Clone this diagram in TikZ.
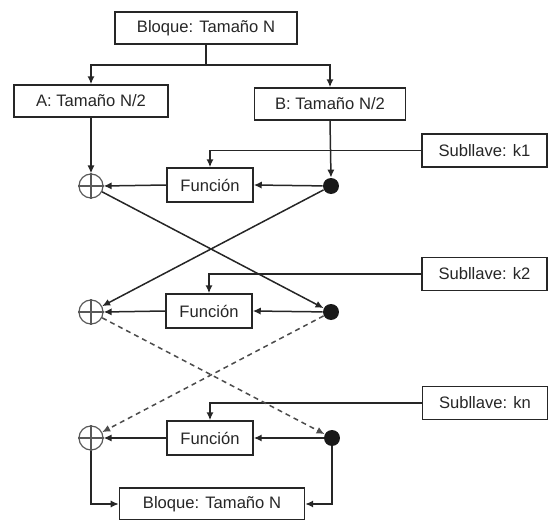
\documentclass[tikz,border=0pt]{standalone}
\usepackage{fontspec}
\setmainfont{Liberation Sans}
\usetikzlibrary{shapes,arrows.meta,calc}
\tikzstyle{tsText} = [
    text=black!85,
    font=\fontsize{8.3}{10}\selectfont
]
\tikzstyle{tsRectangle} = [
    rectangle,
    tsText,
    draw=black!85,
    line width=0.75pt,
    minimum height=16pt,
    inner sep=0pt]
\tikzstyle{tsXor} = [
    circle,
    draw=black!65,
    line width=0.6pt,
    minimum size=12pt,
    inner sep=0pt]
\tikzstyle{tsDot} = [
    circle,
    fill=black!90,
    minimum size=8pt,
    inner sep=0pt]
\tikzstyle{tsLine} = [
    draw=black!85,
    line width=0.75pt,
    -{Latex[length=4pt,width=3.6pt]}]
\tikzstyle{tsDashed} = [
    tsLine,
    draw=black!70,
    dash pattern=on 2.5pt off 2pt]

\begin{document}
\begin{tikzpicture}[x=0.5pt, y=-0.5pt]

        \useasboundingbox (0,0) rectangle (548,520);

        % blocks
        \node[tsRectangle, minimum width=91pt] (top) at (206,28) {Bloque: Tamaño N};
        \node[tsRectangle, minimum width=77pt] (A) at (91,101) {A: Tamaño N/2};
        \node[tsRectangle, minimum width=75.5pt] (B) at (330,104) {B: Tamaño N/2};
        \node[tsRectangle, minimum width=92.5pt] (bottom) at (212,504) {Bloque: Tamaño N};

        % round 1
        \node[tsXor] (o1) at (91,186) {};
        \node[tsDot] (d1) at (331,186) {};
        \node[tsRectangle, minimum width=43pt, minimum height=17pt] (f1) at (210,185) {Función};
        \node[tsRectangle, minimum width=62.5pt, minimum height=16.5pt] (k1) at (484.5,150.5) {Subllave: k1};

        % round 2
        \node[tsXor] (o2) at (91,312) {};
        \node[tsDot] (d2) at (331,312) {};
        \node[tsRectangle, minimum width=43pt, minimum height=17pt] (f2) at (209,311) {Función};
        \node[tsRectangle, minimum width=62.5pt, minimum height=16.5pt] (k2) at (484.5,274) {Subllave: k2};

        % round n
        \node[tsXor] (o3) at (91,438) {};
        \node[tsDot] (d3) at (332,438) {};
        \node[tsRectangle, minimum width=43pt, minimum height=17pt] (f3) at (210,438) {Función};
        \node[tsRectangle, minimum width=62.5pt, minimum height=16.5pt] (kn) at (485,403) {Subllave: kn};

        \draw[draw=black!65, line width=0.6pt] (o1.north) -- (o1.south) (o1.west) -- (o1.east);
        \draw[draw=black!65, line width=0.6pt] (o2.north) -- (o2.south) (o2.west) -- (o2.east);
        \draw[draw=black!65, line width=0.6pt] (o3.north) -- (o3.south) (o3.west) -- (o3.east);

        % split
        \coordinate (split) at (206,65);
        \draw[tsLine, -] (top.south) -- (split);
        \draw[tsLine] (split) -| (A.north);
        \draw[tsLine] (split) -| (B.north);
        \draw[tsLine] (A.south) -- (o1.north);
        \draw[tsLine] (B.south) -- (d1.north);

        % subkeys
        \draw[tsLine] (k1.west) -| (f1.north);
        \draw[tsLine] (k2.west) -| (f2.north);
        \draw[tsLine] (kn.west) -| (f3.north);

        % function paths
        \draw[tsLine] (d1) -- (f1.east);
        \draw[tsLine] (f1.west) -- (o1.east);
        \draw[tsLine] (d2) -- (f2.east);
        \draw[tsLine] (f2.west) -- (o2.east);
        \draw[tsLine] (d3) -- (f3.east);
        \draw[tsLine] (f3.west) -- (o3.east);

        % swaps
        \draw[tsLine] (o1) -- (d2);
        \draw[tsLine] (d1) -- (o2);
        \draw[tsDashed] (o2) -- (d3);
        \draw[tsDashed] (d2) -- (o3);

        % output
        \draw[tsLine] (o3.south) |- (bottom.west);
        \draw[tsLine] (d3.south) |- (bottom.east);

\end{tikzpicture}
\end{document}
